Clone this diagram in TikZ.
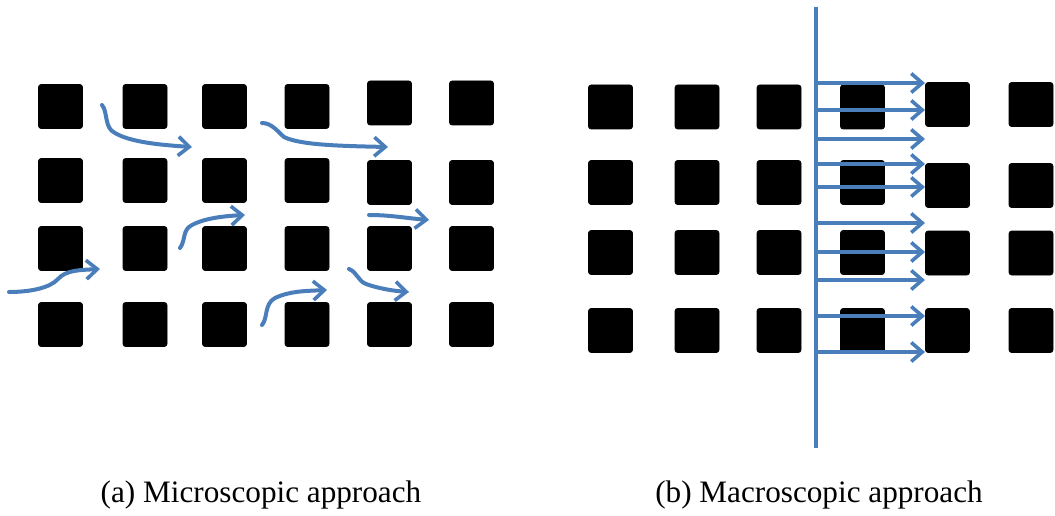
\documentclass[tikz,border=0pt]{standalone}
\usepackage{fontspec}
\setmainfont{Liberation Serif}
\usetikzlibrary{arrows.meta}
\definecolor{flowblue}{HTML}{4A7EBB}
\tikzset{
  cell/.style={fill=black, draw=black, line width=0.6pt, rounded corners=2.5pt, minimum width=44pt, minimum height=44pt, inner sep=0pt},
  flow/.style={draw=flowblue, line width=4pt, line cap=round, -{Straight Barb[length=11pt,width=19pt,line width=3.6pt]}},
  front/.style={draw=flowblue, line width=4pt},
  caption/.style={font=\fontsize{31.2}{36}\selectfont, anchor=base}
}
\begin{document}
\begin{tikzpicture}[x=1pt,y=-1pt]
\useasboundingbox (0,0) rectangle (1055,516);
% left panel squares
\foreach \c/\x/\ya/\yb in {1/60.5/106.5/180.5, 2/145/106.5/180.5, 3/224.5/106.5/180.5, 4/307/106.5/180.5, 5/389.5/103/182.5, 6/471.5/103/182.5}{
  \node[cell] (L\c1) at (\x,\ya) {};
  \node[cell] (L\c2) at (\x,\yb) {};
  \node[cell] (L\c3) at (\x,248.5) {};
  \node[cell] (L\c4) at (\x,324.5) {};
}
% right panel squares
\foreach \c/\x/\ya/\yb/\yc in {1/610.5/107/182.5/252.5, 2/697/107/182.5/252.5, 3/779/107/182.5/252.5, 4/862.5/107/182.5/252.5, 5/947.5/104.5/185.5/253, 6/1031/104.5/185.5/253}{
  \node[cell] (R\c1) at (\x,\ya) {};
  \node[cell] (R\c2) at (\x,\yb) {};
  \node[cell] (R\c3) at (\x,\yc) {};
  \node[cell] (R\c4) at (\x,330.5) {};
}
% left panel curved paths
\draw[flow] (102,105) .. controls (108,112) and (104,128) .. (115,133) .. controls (130,142) and (160,145) .. (192,147);
\draw[flow] (9,292) .. controls (30,292) and (50,288) .. (58,279) .. controls (66,270) and (80,270) .. (100,269);
\draw[flow] (180,248) .. controls (186,240) and (182,230) .. (192,225) .. controls (205,218) and (225,216) .. (245,215);
\draw[flow] (262,123) .. controls (272,123) and (278,132) .. (284,137) .. controls (300,145) and (340,146) .. (388,147);
\draw[flow] (369,215) .. controls (390,215) and (405,218) .. (429,220);
\draw[flow] (262,325) .. controls (268,318) and (264,304) .. (275,298) .. controls (290,291) and (305,291) .. (327,290);
\draw[flow] (349,269) .. controls (357,272) and (358,281) .. (366,284) .. controls (380,289) and (395,291) .. (409,292);
% right panel front
\coordinate (ftop) at (816,7);
\coordinate (fbot) at (816,448);
\draw[front] (ftop) -- (fbot);
\foreach \y [count=\i] in {83,110,139,164,187,223,252,280,316,352}{
  \coordinate (s\i) at (816,\y);
  \coordinate (e\i) at (925,\y);
  \draw[flow, line cap=butt] (s\i) -- (e\i);
}
% captions
\node[caption] (capa) at (261,502) {(a) Microscopic approach};
\node[caption] (capb) at (819,502) {(b) Macroscopic approach};
\end{tikzpicture}
\end{document}
